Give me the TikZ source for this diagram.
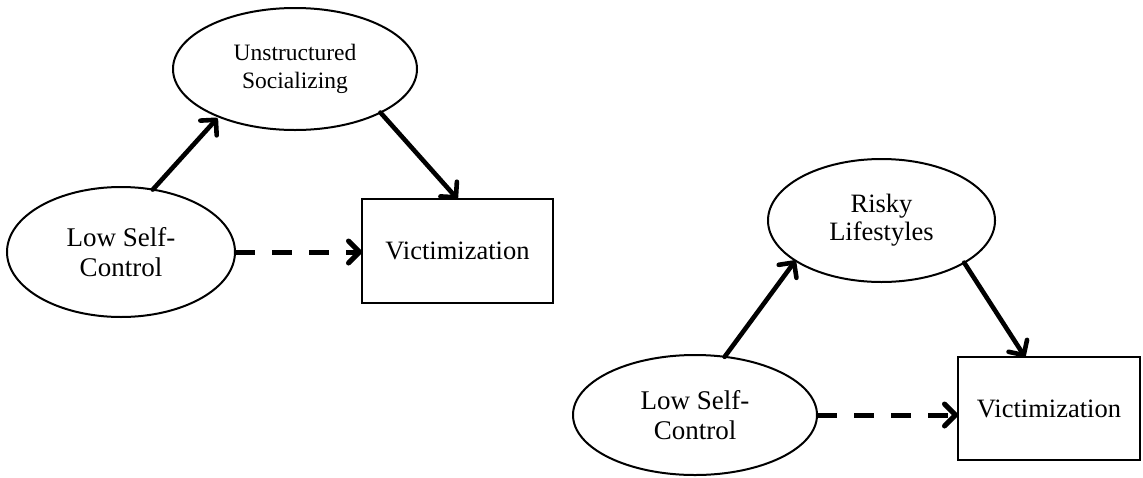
\documentclass[tikz,border=0pt]{standalone}
\usepackage{fontspec}
\setmainfont{Liberation Serif}
\usetikzlibrary{shapes.geometric,arrows.meta,calc}
\tikzset{
  oval/.style={draw, ellipse, line width=2pt, inner sep=0pt, outer sep=0pt, align=center},
  box/.style={draw, rectangle, line width=2.2pt, inner sep=0pt, outer sep=0pt, align=center},
  path/.style={line width=4.6pt, line cap=round, line join=round, -{Straight Barb[length=11pt,width=22pt,line cap=round,line join=round]}},
  dpath/.style={path, line width=5pt, line cap=butt, dash pattern=on 20pt off 17pt},
}
\begin{document}
\begin{tikzpicture}[x=1pt,y=-1pt]
\useasboundingbox (0,0) rectangle (1143,477);
% left model
\node[oval, minimum width=244pt, minimum height=122pt,
      font=\fontsize{23.5}{28}\selectfont] (us) at (295,69) {Unstructured\\Socializing};
\node[oval, minimum width=228pt, minimum height=130pt,
      font=\fontsize{27}{30}\selectfont] (lsc1) at (121,252) {Low Self-\\Control};
\node[box, minimum width=191pt, minimum height=104pt,
      font=\fontsize{26.5}{30}\selectfont] (vic1) at (457.5,251) {Victimization};
\draw[path, shorten >=2pt] (lsc1.63) -- (us.212);
\draw[path] (us.-27) -- (vic1.north);
\draw[dpath] (lsc1.east) -- (lsc1.east -| vic1.west);
% right model
\node[oval, minimum width=227pt, minimum height=123pt,
      font=\fontsize{26.5}{28}\selectfont] (risky) at (881.5,220.5) {Risky\\Lifestyles};
\node[oval, minimum width=244pt, minimum height=120pt,
      font=\fontsize{27}{30}\selectfont] (lsc2) at (695,415) {Low Self-\\Control};
\node[box, minimum width=182pt, minimum height=103pt,
      font=\fontsize{26.5}{30}\selectfont] (vic2) at (1049,408.5) {Victimization};
\coordinate (vic2in) at ([xshift=-24pt]vic2.north);
\draw[path] (lsc2.63) -- (risky.205);
\draw[path] (risky.-27) -- (vic2in);
\draw[dpath] (lsc2.east) -- (lsc2.east -| vic2.west);
\end{tikzpicture}
\end{document}
